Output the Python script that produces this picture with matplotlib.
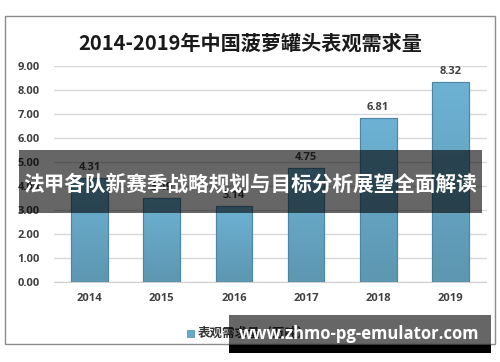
import numpy as np
import matplotlib.pyplot as plt
from matplotlib.patches import Rectangle
from matplotlib.colors import LinearSegmentedColormap

plt.rcParams['font.family'] = ['Noto Sans CJK SC', 'DejaVu Sans']

# Data: apparent demand of canned pineapple in China (10k tons)
years = ["2014", "2015", "2016", "2017", "2018", "2019"]
demand = [4.31, 3.49, 3.14, 4.75, 6.81, 8.32]
yticks = [0, 1, 2, 3, 4, 5, 6, 7, 8, 9]

title = "2014-2019年中国菠萝罐头表观需求量"
legend_label = "表观需求量（万吨）"
banner = "法甲各队新赛季战略规划与目标分析展望全面解读"
watermark = "www.zhmo-pg-emulator.com"

fig = plt.figure(figsize=(5, 3.62), dpi=100)
ax = fig.add_axes([0.107, 0.222, 0.866, 0.5956])

x = np.arange(len(years))
bars = ax.bar(x, demand, width=0.51, color="#66aacb", edgecolor="#4d86a3",
              linewidth=0.8, zorder=3)

# gradient fill inside each bar, lighter at the top
cmap = LinearSegmentedColormap.from_list("bar", ["#6db2d4", "#5d97b1"])
grad = np.linspace(0, 1, 64).reshape(-1, 1)
for b in bars:
    im = ax.imshow(grad, cmap=cmap, aspect="auto", zorder=3.5,
                   extent=[b.get_x(), b.get_x() + b.get_width(), 0, b.get_height()])
    im.set_clip_path(b)
    ax.add_patch(Rectangle((b.get_x(), 0), b.get_width(), b.get_height(),
                           fill=False, edgecolor="#4d86a3", linewidth=0.8, zorder=4))

for xi, v in zip(x, demand):
    ax.text(xi, v + 0.22, f"{v:.2f}", ha="center", va="bottom", fontsize=8,
            fontweight="bold", color="#404040", family=["Open Sans", "DejaVu Sans"], zorder=5)

ax.set_xlim(-0.5, len(years) - 0.5)
ax.set_ylim(0, 9)
ax.set_yticks(yticks)
ax.set_yticklabels([f"{t:.2f}" for t in yticks])
ax.set_xticks(x)
ax.set_xticklabels(years)
for lab in ax.get_yticklabels() + ax.get_xticklabels():
    lab.set_family(["Open Sans", "DejaVu Sans"])
    lab.set_fontweight("bold")
    lab.set_color("#404040")
    lab.set_fontsize(8)
ax.tick_params(axis="both", length=0)
ax.tick_params(axis="y", pad=10)
ax.tick_params(axis="x", pad=8)
ax.grid(axis="y", color="#d9d9d9", linewidth=1, zorder=0)
ax.set_axisbelow(True)
for s in ["top", "right", "left"]:
    ax.spines[s].set_visible(False)
ax.spines["bottom"].set_color("#d0d0d0")

# outer chart frame
fig.patches.append(Rectangle((5 / 500, 1 - 344 / 362), 490 / 500, 328 / 362,
                             transform=fig.transFigure, fill=False,
                             edgecolor="#8c8c8c", linewidth=1))

fig.text(0.5, 1 - 43 / 362, title, ha="center", va="center", fontsize=14.5,
         fontweight="bold", color="#1a1a1a")

# legend
fig.patches.append(Rectangle((187 / 500, 1 - 337 / 362), 7 / 500, 7 / 362,
                             transform=fig.transFigure, facecolor="#66aacb",
                             edgecolor="#4d86a3", linewidth=0.5))
fig.text(198 / 500, 1 - 333 / 362, legend_label, ha="left", va="center",
         fontsize=9, fontweight="bold", color="#333333")

# overlay banner
fig.patches.append(Rectangle((19 / 500, 1 - 213 / 362), 463 / 500, 63 / 362,
                             transform=fig.transFigure, facecolor="black",
                             alpha=0.6, edgecolor="none", zorder=10))
fig.text(250 / 500, 1 - 184 / 362, banner, ha="center", va="center",
         fontsize=14.9, fontweight="bold", color="white", zorder=11)

# watermark
fig.patches.append(Rectangle((229 / 500, 1 - 345 / 362), 262 / 500, 30 / 362,
                             transform=fig.transFigure, facecolor="black",
                             alpha=0.6, edgecolor="none", zorder=10))
fig.patches.append(Rectangle((229 / 500, 1 - 353 / 362), 262 / 500, 8 / 362,
                             transform=fig.transFigure, facecolor="black",
                             edgecolor="none", zorder=10))
fig.text(359 / 500, 1 - 334 / 362, watermark, ha="center", va="center",
         fontsize=12, fontweight="bold", color="white",
         family=["Open Sans", "DejaVu Sans"], zorder=11)

fig.savefig("out.png", dpi=100)
